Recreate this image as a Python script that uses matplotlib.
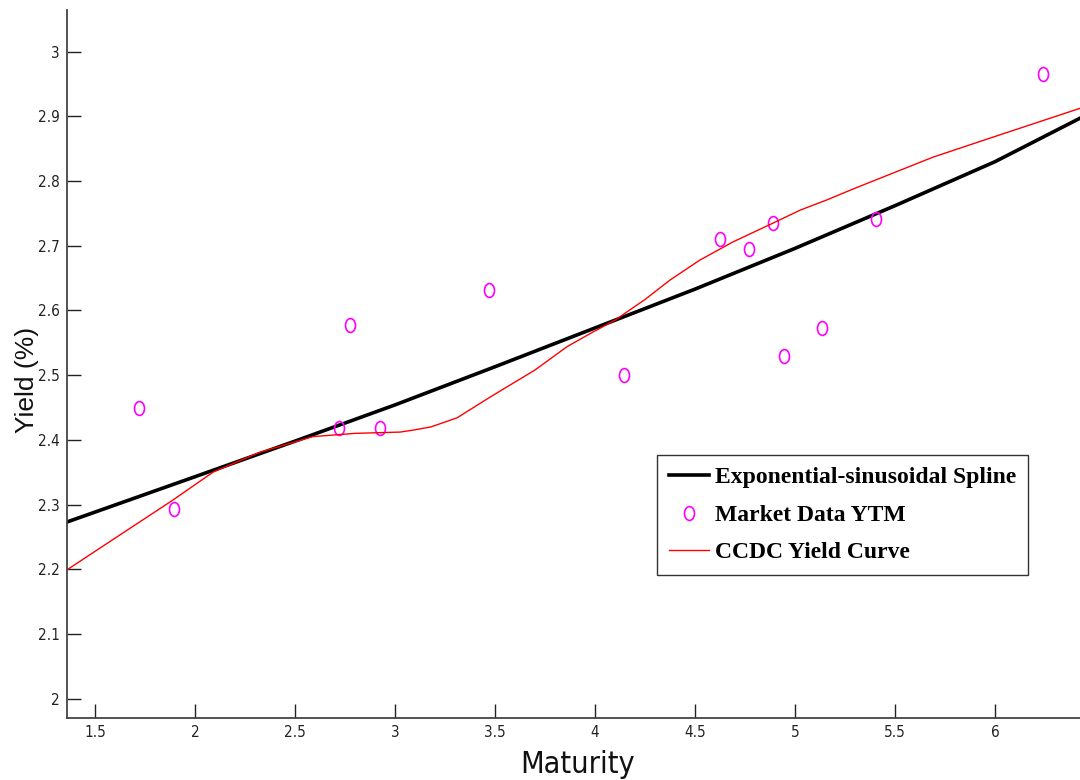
import matplotlib

matplotlib.use("Agg")
import matplotlib.pyplot as plt
from matplotlib import font_manager
from matplotlib.font_manager import FontProperties
from matplotlib.path import Path
from matplotlib.transforms import Affine2D
from matplotlib.ticker import FormatStrFormatter

# market data (maturity, YTM)
mkt_x = [1.72, 1.897, 2.72, 2.777, 2.927, 3.47, 4.147, 4.627, 4.772, 4.889,
         4.947, 5.135, 5.404, 6.24]
mkt_y = [2.449, 2.293, 2.419, 2.578, 2.419, 2.632, 2.500, 2.711, 2.695, 2.735,
         2.529, 2.573, 2.741, 2.966]

# exponential-sinusoidal spline fit
spl_x = [1.36, 2.0, 2.5, 3.0, 3.5, 4.0, 4.5, 5.0, 5.5, 6.0, 6.43]
spl_y = [2.273, 2.343, 2.398, 2.454, 2.513, 2.573, 2.633, 2.696, 2.762, 2.830, 2.898]

# CCDC yield curve
ccdc_x = [1.36, 1.6, 1.89, 2.09, 2.325, 2.59, 2.8, 3.025, 3.09, 3.18, 3.31, 3.475,
          3.7, 3.86, 3.98, 4.1, 4.25, 4.375, 4.525, 4.69, 4.8, 4.89, 5.025, 5.16,
          5.3, 5.69, 6.0, 6.43]
ccdc_y = [2.199, 2.248, 2.307, 2.35, 2.381, 2.405, 2.41, 2.412, 2.415, 2.42, 2.434,
          2.466, 2.508, 2.544, 2.565, 2.585, 2.617, 2.647, 2.678, 2.706, 2.722, 2.735,
          2.755, 2.771, 2.789, 2.837, 2.869, 2.913]

x_ticks = [1.5, 2, 2.5, 3, 3.5, 4, 4.5, 5, 5.5, 6]
y_ticks = [2.0, 2.1, 2.2, 2.3, 2.4, 2.5, 2.6, 2.7, 2.8, 2.9, 3.0]


def find_font(keys, fallback):
    for f in font_manager.fontManager.ttflist:
        if any(k in f.fname for k in keys):
            return {"fname": f.fname}
    return {"family": fallback}


narrow = find_font(["LiberationSansNarrow-Regular", "DejaVuSansCondensed.ttf"],
                   "Liberation Sans")
serif = "Liberation Serif"

# the original picture is squeezed sideways, so circles come out as ellipses
ellipse = Path.unit_circle().transformed(Affine2D().scale(0.72, 1.0))

fig = plt.figure(figsize=(10.8, 7.8), dpi=100)
ax = fig.add_axes([67 / 1080, 62 / 780, 1013 / 1080, 708 / 780])

ax.plot(spl_x, spl_y, color="black", lw=2.6, label="Exponential-sinusoidal Spline")
ax.plot(mkt_x, mkt_y, ls="none", marker=ellipse, ms=10, mfc="none", mec="#ff00ff",
        mew=1.2, label="Market Data YTM")
ax.plot(ccdc_x, ccdc_y, color="#ff0000", lw=1.0, label="CCDC Yield Curve")

ax.set_xlim(1.36, 6.425)
ax.set_ylim(1.970, 3.0645)
ax.set_xticks(x_ticks)
ax.set_yticks(y_ticks)
ax.xaxis.set_major_formatter(FormatStrFormatter("%g"))
ax.yaxis.set_major_formatter(FormatStrFormatter("%g"))

for s in ("top", "right"):
    ax.spines[s].set_visible(False)
for s in ("left", "bottom"):
    ax.spines[s].set_color("#444444")
    ax.spines[s].set_linewidth(1.3)

ax.tick_params(direction="in", length=10, width=1, color="#222222",
               labelcolor="#222222", pad=5)
tick_fp = FontProperties(size=11, **narrow)
for lab in ax.get_xticklabels() + ax.get_yticklabels():
    lab.set_fontproperties(tick_fp)

ax.set_xlabel("Maturity", fontproperties=FontProperties(size=22, **narrow),
              color="#111111", va="baseline")
ax.set_ylabel("Yield (%)", fontsize=19, family="Liberation Sans", color="#111111")
ax.xaxis.set_label_coords(0.504, -0.0777)
ax.yaxis.set_label_coords(-0.0275, 0.477)

leg = ax.legend(loc="upper left", bbox_to_anchor=(590 / 1013, 263 / 708),
                prop={"family": serif, "weight": "bold", "size": 17},
                frameon=True, fancybox=False, framealpha=1, edgecolor="#333333",
                handlelength=1.7, handletextpad=0.25, borderpad=0.5,
                labelspacing=0.68, borderaxespad=0)
leg.get_frame().set_linewidth(1.0)

fig.savefig("out.png", dpi=100)
plt.close(fig)
